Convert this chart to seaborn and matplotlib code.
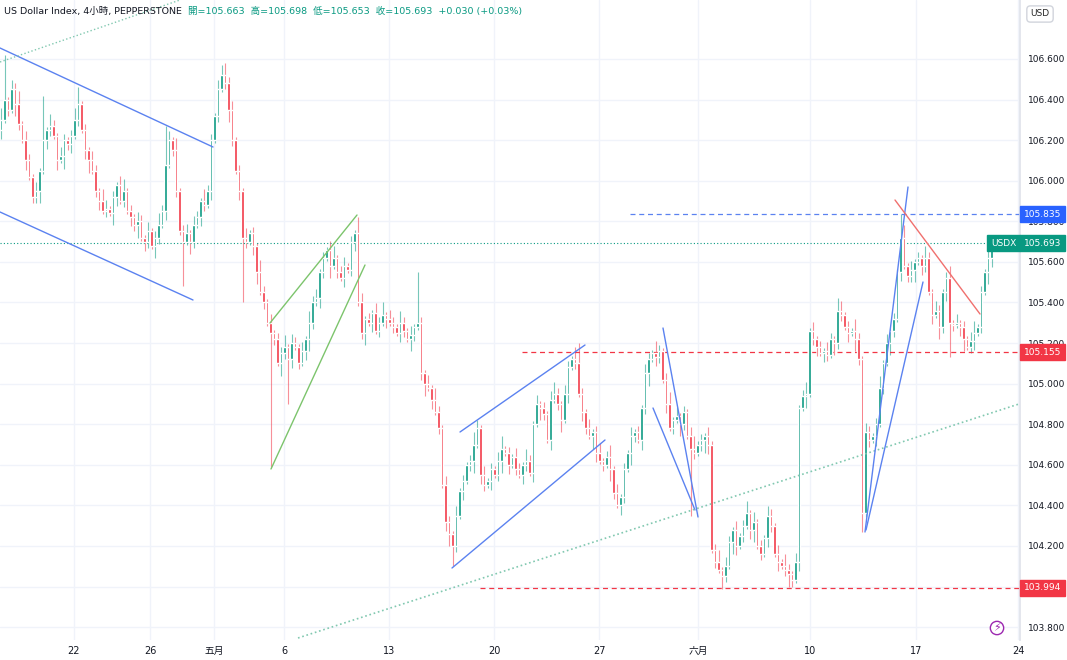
import numpy as np
import pandas as pd
import matplotlib
matplotlib.use("Agg")
import matplotlib.pyplot as plt
import seaborn as sns

# 4h closes, US Dollar Index
closes = [
    106.30, 106.40, 106.35, 106.45, 106.38, 106.28, 106.20, 106.10, 106.02, 105.92,
    105.95, 106.05, 106.20, 106.25, 106.27, 106.22, 106.10, 106.12, 106.20, 106.18,
    106.22, 106.30, 106.38, 106.25, 106.15, 106.10, 106.05, 105.95, 105.90, 105.85,
    105.86, 105.84, 105.92, 105.98, 105.90, 105.95, 105.85, 105.82, 105.78, 105.80,
    105.72, 105.70, 105.75, 105.68, 105.72, 105.78, 105.85, 106.08, 106.20, 106.15,
    105.95, 105.75, 105.70, 105.74, 105.70, 105.78, 105.82, 105.90, 105.88, 105.95,
    106.20, 106.32, 106.45, 106.52, 106.48, 106.35, 106.20, 106.05, 105.95, 105.72,
    105.70, 105.74, 105.68, 105.55, 105.45, 105.40, 105.30, 105.25, 105.22, 105.10,
    105.15, 105.18, 105.12, 105.20, 105.18, 105.10, 105.16, 105.22, 105.30, 105.40,
    105.42, 105.55, 105.62, 105.66, 105.58, 105.62, 105.55, 105.52, 105.58, 105.56,
    105.70, 105.74, 105.40, 105.25, 105.32, 105.30, 105.35, 105.26, 105.30, 105.34,
    105.32, 105.30, 105.28, 105.25, 105.30, 105.26, 105.22, 105.24, 105.28, 105.30,
    105.05, 105.00, 104.98, 104.92, 104.86, 104.78, 104.50, 104.32, 104.26, 104.20,
    104.35, 104.47, 104.52, 104.60, 104.62, 104.70, 104.78, 104.55, 104.50, 104.52,
    104.58, 104.55, 104.62, 104.68, 104.66, 104.60, 104.64, 104.58, 104.55, 104.60,
    104.62, 104.56, 104.80, 104.90, 104.88, 104.85, 104.72, 104.92, 104.95, 104.90,
    104.82, 104.95, 105.08, 105.12, 105.10, 104.95, 104.86, 104.78, 104.74, 104.76,
    104.66, 104.62, 104.60, 104.64, 104.58, 104.46, 104.40, 104.44, 104.58, 104.66,
    104.74, 104.76, 104.72, 104.88, 105.05, 105.12, 105.15, 105.13, 105.16, 105.02,
    104.90, 104.78, 104.82, 104.84, 104.80, 104.86, 104.74, 104.68, 104.66, 104.70,
    104.72, 104.74, 104.70, 104.18, 104.12, 104.08, 104.05, 104.10, 104.22, 104.28,
    104.20, 104.25, 104.30, 104.36, 104.28, 104.32, 104.20, 104.16, 104.24, 104.35,
    104.30, 104.16, 104.12, 104.10, 104.08, 104.06, 104.03, 104.12, 104.88, 104.94,
    104.95, 105.26, 105.22, 105.18, 105.15, 105.16, 105.14, 105.22, 105.20, 105.36,
    105.34, 105.28, 105.25, 105.26, 105.22, 105.12, 104.36, 104.76, 104.72, 104.74,
    104.80, 104.98, 105.10, 105.20, 105.26, 105.32, 105.55, 105.72, 105.58, 105.53,
    105.56, 105.60, 105.62, 105.58, 105.62, 105.45, 105.34, 105.36, 105.28, 105.45,
    105.52, 105.30, 105.29, 105.30, 105.28, 105.22, 105.18, 105.21, 105.25, 105.28,
    105.45, 105.55, 105.62, 105.693,
]
first_open = 106.25

# wick lengths per candle, one digit each, in units of 0.015
wick_up = ("4213241321 3121421321 2431213214 3121341213 2131242131 4123132142 "
           "2131423121 3121421312 2413213142 3121341231 2143121324 1321421312 "
           "2131421321 3121242131 2134121321 4213121342 1321412131 2312413121 "
           "3121321421 2413121341 2131241321 3124131213 2131421312 4131213214 "
           "3121421321 2413121341 3121421321 2413121341 2131421312 4131213214")
wick_dn = ("3121421312 2413213142 3121341231 2143121324 1321421312 2131421321 "
           "3121242131 2134121321 4213121342 1321412131 2312413121 3121321421 "
           "2413121341 2131241321 3124131213 2131421312 4131213214 3121421321 "
           "4213241321 3121421321 2431213214 3121341213 2131242131 4123132142 "
           "2131423121 3121421312 2413213142 3121341231 2143121324 1321421312")

# candles with long wicks: index -> (high, low)
big_wicks = {1: (106.62, None), 12: (106.42, None), 22: (106.46, None),
             47: (106.27, None), 52: (None, 105.48), 63: (106.57, None),
             69: (None, 105.40), 77: (None, 104.59), 82: (None, 104.90),
             102: (105.82, None), 119: (105.55, None), 129: (None, 104.10),
             136: (104.82, None), 165: (105.20, None), 187: (105.20, None),
             197: (None, 104.35), 206: (None, 103.99), 226: (None, 104.00),
             246: (None, 104.27), 257: (105.835, None), 271: (None, 105.13)}

date_labels = ["22", "26", "五月", "6", "13", "20", "27", "六月", "10", "17", "24"]
date_px = [74, 150, 214, 284, 389, 494, 599, 698, 810, 916, 1018]
price_ticks = [103.8, 104.0, 104.2, 104.4, 104.6, 104.8, 105.0, 105.2, 105.4,
               105.6, 105.8, 106.0, 106.2, 106.4, 106.6]

n = len(closes)
up_w = [int(c) * 0.015 for c in wick_up.replace(" ", "")][:n]
dn_w = [int(c) * 0.015 for c in wick_dn.replace(" ", "")][:n]
df = pd.DataFrame({"close": closes})
df["open"] = [first_open] + closes[:-1]
df["high"] = df[["open", "close"]].max(axis=1) + up_w
df["low"] = df[["open", "close"]].min(axis=1) - dn_w
for i, (h, l) in big_wicks.items():
    if h is not None:
        df.loc[i, "high"] = max(h, df.loc[i, "high"])
    if l is not None:
        df.loc[i, "low"] = min(l, df.loc[i, "low"])
df["idx"] = np.arange(n)

GREEN, RED = "#089981", "#f23645"

def px2i(x):
    return (x - 1) / 3.5

def py2p(y):
    return 106.6 - (y - 59) / 202.9

sns.set_theme(style="white")
plt.rcParams["font.family"] = ["DejaVu Sans", "Noto Sans CJK JP", "Noto Sans CJK TC", "Noto Sans CJK SC"]
fig = plt.figure(figsize=(10.67, 6.6), dpi=100)
ax = fig.add_axes([0, 20 / 660, 1020 / 1067, 640 / 660])
ax.set_xlim(px2i(0), px2i(1020))
ax.set_ylim(py2p(640), py2p(0))

for p in price_ticks:
    ax.axhline(p, color="#f0f3fa", lw=1, zorder=0)
for x in date_px:
    ax.axvline(px2i(x), color="#f0f3fa", lw=1, zorder=0)

cols = np.where(df["close"] >= df["open"], GREEN, RED)
ax.vlines(df["idx"], df["low"], df["high"], colors=cols, lw=0.8, alpha=0.55, zorder=2)
ax.bar(df["idx"], (df["close"] - df["open"]).abs().clip(lower=0.004),
       bottom=df[["open", "close"]].min(axis=1), width=0.8, color=cols, zorder=3)

def seg(x0, y0, x1, y1, c, ls="-", lw=1.0):
    ax.plot([px2i(x0), px2i(x1)], [py2p(y0), py2p(y1)], color=c, ls=ls, lw=lw, zorder=4)

BLUE = "#5b82f0"
seg(0, 48, 213, 147, BLUE)
seg(0, 212, 193, 300, BLUE)
seg(0, 62, 180, 0, "#81c8b0", ":")
seg(270, 323, 357, 215, "#7cc46c")
seg(271, 469, 365, 265, "#7cc46c")
seg(460, 432, 585, 345, BLUE)
seg(452, 568, 605, 440, BLUE)
seg(663, 328, 698, 517, BLUE)
seg(653, 408, 695, 510, BLUE)
seg(298, 638, 1022, 403, "#81c8b0", ":", 1.2)
seg(865, 532, 908, 187, BLUE)
seg(866, 530, 923, 282, BLUE)
seg(895, 200, 980, 314, "#f0706e")
ax.plot([px2i(630), px2i(1020)], [105.835] * 2, color=BLUE, ls=(0, (4, 3)), lw=0.9)
ax.plot([px2i(522), px2i(1020)], [105.155] * 2, color=RED, ls=(0, (4, 3)), lw=0.9)
ax.plot([px2i(480), px2i(1020)], [103.994] * 2, color=RED, ls=(0, (4, 3)), lw=0.9)
ax.axhline(105.693, color=GREEN, ls=(0, (1, 2)), lw=0.8)

ax.yaxis.tick_right()
ax.set_yticks(price_ticks)
ax.set_yticklabels([f"{p:.3f}" for p in price_ticks], fontsize=6.5, color="#131722")
ax.tick_params(axis="y", length=0, pad=6)
ax.set_xticks([px2i(x) for x in date_px])
ax.set_xticklabels(date_labels, fontsize=7, color="#131722")
ax.tick_params(axis="x", length=0, pad=4)
for s in ["top", "left", "bottom"]:
    ax.spines[s].set_visible(False)
ax.spines["right"].set_color("#e0e3eb")

def tag(p, text, c, x=1024, ha="left"):
    ax.text(px2i(x), p, text, color="white", fontsize=6.5, va="center", ha=ha,
            bbox=dict(boxstyle="square,pad=0.4", fc=c, ec=c), clip_on=False, zorder=6)

tag(105.835, "105.835", "#2962ff")
tag(105.693, "105.693", GREEN)
tag(105.155, "105.155", RED)
tag(103.994, "103.994", RED)
tag(105.693, "USDX", GREEN, x=1016, ha="right")
ax.text(px2i(1040), py2p(14), "USD", fontsize=6.5, ha="center", va="center", clip_on=False,
        bbox=dict(boxstyle="round,pad=0.4", fc="white", ec="#d1d4dc"))
ax.text(px2i(997), py2p(628), "⚡", fontsize=8, color="#9c27b0", ha="center", va="center",
        bbox=dict(boxstyle="circle,pad=0.15", fc="white", ec="#9c27b0"))

t1 = fig.text(4 / 1067, 1 - 11 / 660, "US Dollar Index, 4小時, PEPPERSTONE", fontsize=6.8,
              color="#131722", va="center")
fig.canvas.draw()
bb = t1.get_window_extent()
fig.text((bb.x1 + 6) / 1067, 1 - 11 / 660,
         "開=105.663  高=105.698  低=105.653  收=105.693  +0.030 (+0.03%)",
         fontsize=6.8, color=GREEN, va="center")

fig.savefig("out.png", dpi=100, facecolor="white")
